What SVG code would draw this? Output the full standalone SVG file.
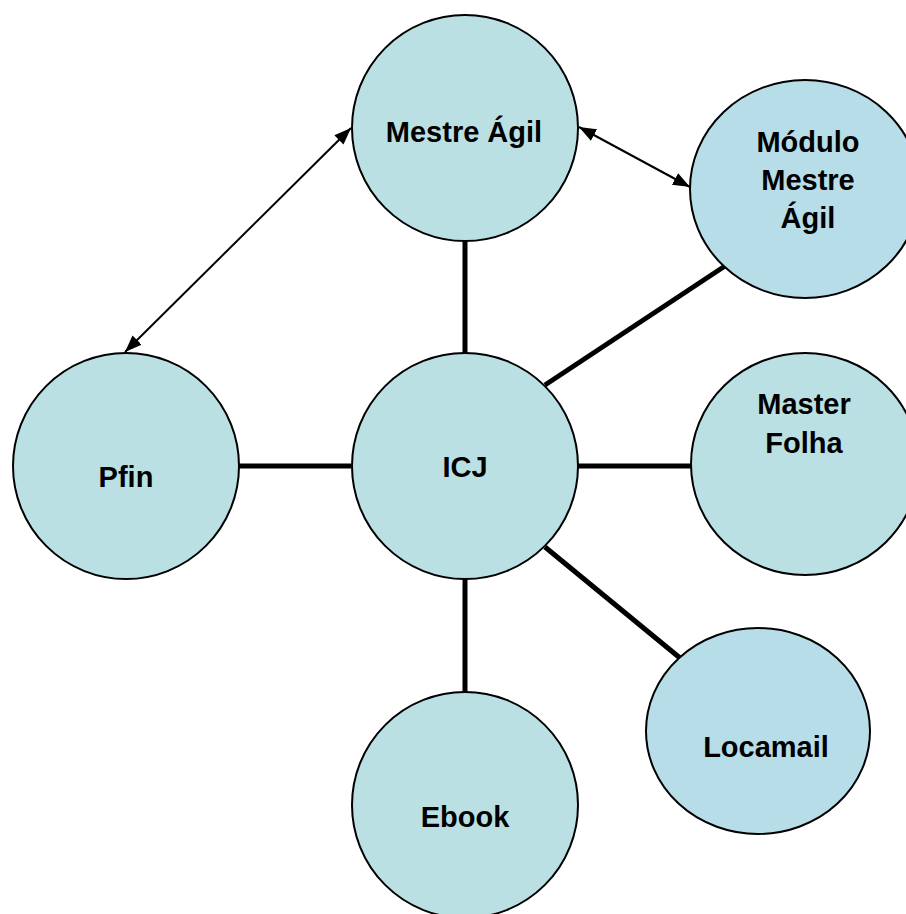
<svg xmlns="http://www.w3.org/2000/svg" width="906" height="914" viewBox="0 0 906 914">
<defs>
<style>
.n{fill:#BBE0E3;stroke:#000;stroke-width:2}
.b{fill:#B7DDE8;stroke:#000;stroke-width:2}
.t{font-family:"Liberation Sans",Arial,sans-serif;font-weight:bold;font-size:29px;fill:#000;text-anchor:middle}
.thick{stroke:#000;stroke-width:5;fill:none}
.thin{stroke:#000;stroke-width:2;fill:none}
</style>
<marker id="ah" viewBox="0 0 17 13" refX="17" refY="6.5" markerWidth="17" markerHeight="13" markerUnits="userSpaceOnUse" orient="auto-start-reverse">
<path d="M0,0 L17,6.5 L0,13 Z" fill="#000"/>
</marker>
</defs>
<rect width="906" height="914" fill="#fff"/>
<g id="connectors">
<line class="thick" x1="465" y1="241" x2="465" y2="353"/>
<line class="thick" x1="239" y1="466" x2="351" y2="466"/>
<line class="thick" x1="577" y1="466" x2="691" y2="466"/>
<line class="thick" x1="465" y1="579" x2="465" y2="692"/>
<line class="thick" x1="545" y1="385" x2="725" y2="266"/>
<line class="thick" x1="545" y1="547" x2="680" y2="658"/>
<line class="thin" x1="125" y1="352" x2="351" y2="128" marker-start="url(#ah)" marker-end="url(#ah)"/>
<line class="thin" x1="579" y1="127" x2="690" y2="187" marker-start="url(#ah)" marker-end="url(#ah)"/>
</g>
<g id="mestre-agil">
<circle class="n" cx="465" cy="128" r="113"/>
<text class="t" x="464" y="142">Mestre Ágil</text>
</g>
<g id="modulo-mestre-agil">
<ellipse class="b" cx="805" cy="189" rx="115" ry="109"/>
<text class="t" x="808" y="152">Módulo</text>
<text class="t" x="808" y="190">Mestre</text>
<text class="t" x="808" y="228">Ágil</text>
</g>
<g id="pfin">
<circle class="n" cx="126" cy="466" r="113"/>
<text class="t" x="126" y="487">Pfin</text>
</g>
<g id="icj">
<circle class="n" cx="465" cy="466" r="113"/>
<text class="t" x="465" y="477">ICJ</text>
</g>
<g id="master-folha">
<ellipse class="n" cx="805" cy="464" rx="114" ry="111"/>
<text class="t" x="804" y="414">Master</text>
<text class="t" x="804" y="453">Folha</text>
</g>
<g id="locamail">
<ellipse class="b" cx="758" cy="731" rx="112" ry="103"/>
<text class="t" x="766" y="757">Locamail</text>
</g>
<g id="ebook">
<circle class="n" cx="465" cy="805" r="113"/>
<text class="t" x="465" y="827">Ebook</text>
</g>
</svg>
